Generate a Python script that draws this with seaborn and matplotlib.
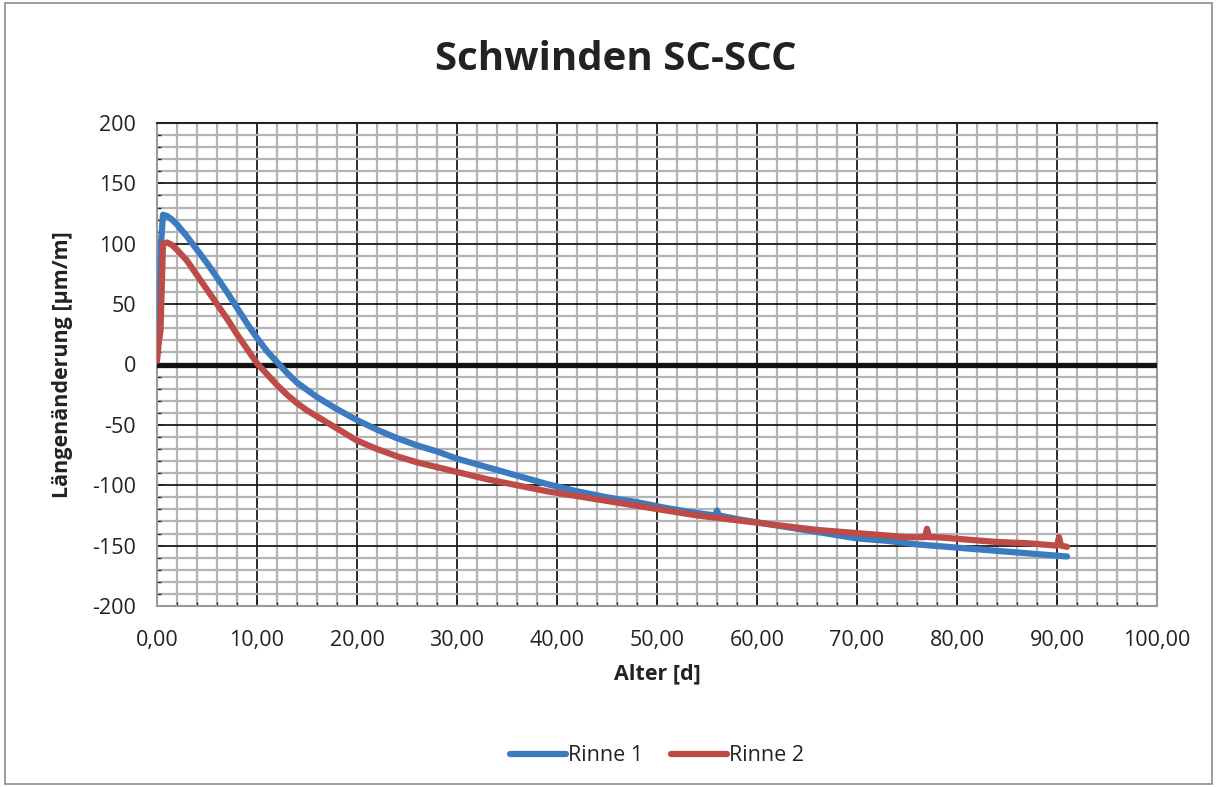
import numpy as np
import pandas as pd
import matplotlib
matplotlib.use("Agg")
import matplotlib.pyplot as plt
import seaborn as sns
from matplotlib.ticker import MultipleLocator, FuncFormatter

# ---- data ----
rinne1_x = [0.0, 0.2, 0.4, 0.6, 1.0, 1.5, 2, 3, 4, 5, 6, 7, 8, 9, 10, 11, 12, 13, 14, 15,
            16, 18, 20, 22, 24, 26, 28, 30, 33, 36, 39, 42, 45, 48, 51, 54, 55.8, 56.0, 56.2,
            58, 61, 64, 67, 70, 73, 76, 79, 82, 85, 88, 91]
rinne1_y = [15, 22, 100, 124, 123, 120, 116, 106, 95, 84, 72, 60, 47, 34, 22, 11, 2, -7, -15, -21,
            -27, -37, -46, -54, -61, -67, -72, -78, -85, -92, -99, -105, -110, -114, -119, -123,
            -125, -121, -125, -128, -132, -136, -140, -144, -146, -149, -151, -153, -155, -157, -159]

rinne2_x = [0.0, 0.2, 0.35, 0.6, 1.0, 1.5, 2, 3, 4, 5, 6, 7, 8, 9, 10, 11, 12, 13, 14, 15,
            16, 18, 20, 22, 24, 26, 28, 30, 33, 36, 39, 42, 45, 48, 51, 54, 57, 60, 63, 66,
            69, 72, 75, 76.8, 77.0, 77.2, 78, 81, 84, 87, 90.0, 90.2, 90.4, 91]
rinne2_y = [3, 20, 28, 100, 101, 99, 95, 86, 74, 62, 50, 38, 25, 13, 1, -8, -17, -25, -32, -38,
            -43, -53, -63, -70, -76, -81, -85, -89, -95, -100, -105, -109, -113, -117, -121, -125,
            -128, -131, -134, -137, -139, -141, -143, -143, -136, -143, -143, -145, -147, -148,
            -150, -143, -150, -151]

series_names = ["Rinne 1", "Rinne 2"]
colors = ["#3C7BBF", "#BE4B48"]

df = pd.concat([
    pd.DataFrame({"Alter": rinne1_x, "Wert": rinne1_y, "Serie": series_names[0]}),
    pd.DataFrame({"Alter": rinne2_x, "Wert": rinne2_y, "Serie": series_names[1]}),
])

sns.set_theme(style="white")
plt.rcParams["font.family"] = ["Open Sans", "DejaVu Sans"]

fig = plt.figure(figsize=(12.17, 7.87), dpi=100)
ax = fig.add_axes([157/1217, 1-606/787, 1000/1217, 483/787])

sns.lineplot(data=df, x="Alter", y="Wert", hue="Serie", palette=colors, sort=False,
             estimator=None, linewidth=4.5, ax=ax, legend=True, zorder=5)

ax.set_xlim(0, 100)
ax.set_ylim(-200, 200)
ax.xaxis.set_major_locator(MultipleLocator(10))
ax.xaxis.set_minor_locator(MultipleLocator(2))
ax.yaxis.set_major_locator(MultipleLocator(50))
ax.yaxis.set_minor_locator(MultipleLocator(10))
ax.xaxis.set_major_formatter(FuncFormatter(lambda v, p: f"{v:.2f}".replace(".", ",")))
ax.yaxis.set_major_formatter(FuncFormatter(lambda v, p: f"{int(round(v))}"))

ax.grid(which="minor", color="#B4B4B4", linewidth=1.6, zorder=0)
ax.grid(which="major", color="#1A1A1A", linewidth=1.3, zorder=1)
ax.set_axisbelow(True)
ax.axhline(0, color="#111111", linewidth=3.8, zorder=3)

for s in ["left", "bottom", "right"]:
    ax.spines[s].set_color("#9A9A9A")
    ax.spines[s].set_linewidth(1.5)
ax.spines["top"].set_color("#222222")
ax.spines["top"].set_linewidth(1.5)

ax.tick_params(axis="both", which="major", labelsize=15.5, colors="#222222", length=4,
               direction="in")
ax.tick_params(axis="x", which="major", pad=17)
ax.tick_params(axis="y", which="major", pad=15)
ax.tick_params(axis="both", which="minor", length=3, direction="in")
ax.tick_params(axis="both", which="both", left=True, bottom=True)

ax.set_xlabel("Alter [d]", fontsize=15.5, fontweight="bold", color="#222222", labelpad=9)
ax.set_ylabel("Längenänderung [µm/m]", fontsize=15.5, fontweight="bold", color="#222222", labelpad=14)

fig.suptitle("Schwinden SC-SCC", x=0.506, y=1-40/787, fontsize=29,
             fontweight="bold", color="#222222", va="top")

handles, labels = ax.get_legend_handles_labels()
ax.legend(handles, labels, loc="center", bbox_to_anchor=(0.5, -0.31), ncol=2,
          frameon=False, fontsize=15.5, handlelength=2.6, handletextpad=0.1, columnspacing=1.3,
          labelcolor="#222222")

fig.patches.append(plt.Rectangle((0.004, 0.004), 0.992, 0.992, transform=fig.transFigure,
                                 fill=False, edgecolor="#8C8C8C", linewidth=1.2))

fig.savefig("out.png", dpi=100, facecolor="white")
